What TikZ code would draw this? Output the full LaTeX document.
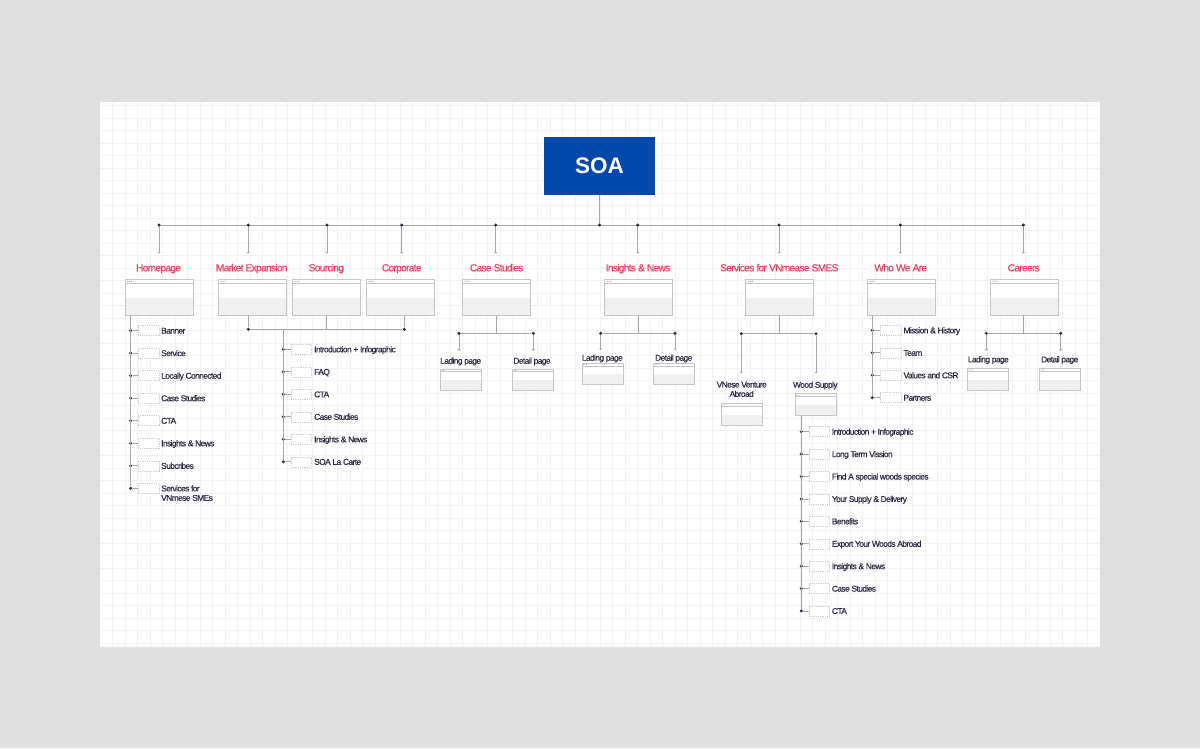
\documentclass[tikz,border=0pt]{standalone}
\usepackage{fontspec}
\setmainfont{Liberation Sans}[LetterSpace=-7,FakeBold=0.35]
\newfontfamily\titlefont{Liberation Sans}[LetterSpace=-7,FakeBold=0.6]
\newfontfamily\soafont{Liberation Sans}
\usetikzlibrary{arrows.meta,calc}
\definecolor{bgout}{HTML}{E0E0E0}
\definecolor{gridc}{HTML}{F2F2F2}
\definecolor{soablue}{HTML}{0049AA}
\definecolor{titlered}{HTML}{E6455F}
\definecolor{navy}{HTML}{2B2A45}
\definecolor{linec}{HTML}{A8A8A8}
\definecolor{boxgray}{HTML}{C6C6C6}
\definecolor{pagefill}{HTML}{F0F0F0}
\definecolor{phgray}{HTML}{CDCDCD}
\definecolor{dotgray}{HTML}{8A8A8A}
\begin{document}
\begin{tikzpicture}[x=1pt,y=-1pt,
  conn/.style={draw=linec,line width=0.8},
  arr/.style={-{To[length=1.6,width=3]}},
  dotn/.style={circle,fill=navy,inner sep=0,minimum size=3.4},
  soabox/.style={fill=soablue,minimum width=111,minimum height=58,inner sep=0,text=white,font=\soafont\bfseries\fontsize{22.5}{24}\selectfont},
  title/.style={anchor=base,inner sep=0,text=titlered,font=\titlefont\fontsize{10.2}{12}\selectfont},
  lbl/.style={inner sep=0,text=navy,font=\fontsize{8.4}{9.4}\selectfont},
  itemtext/.style={lbl,anchor=base west},
  ph/.style={draw=phgray,dash pattern=on 1pt off 0.8pt,line width=0.5,fill=white,minimum width=20.5,minimum height=10,inner sep=0},
  pagebig/.style={draw=boxgray,line width=0.7,fill=white,minimum width=68,minimum height=36,inner sep=0,
    path picture={
      \fill[pagefill] ($(path picture bounding box.west)+(0,1)$) rectangle (path picture bounding box.south east);
      \draw[boxgray,line width=0.5] ($(path picture bounding box.north west)+(0,4.3)$) -- ($(path picture bounding box.north east)+(0,4.3)$);
      \foreach \k in {0,1,2} \fill[dotgray] ($(path picture bounding box.north west)+(2.6+2*\k,2.2)$) circle (0.6);
    }},
  pagesmall/.style={draw=boxgray,line width=0.6,fill=white,minimum width=41,minimum height=21.5,inner sep=0,
    path picture={
      \fill[pagefill] ($(path picture bounding box.west)+(0,0.6)$) rectangle (path picture bounding box.south east);
      \draw[boxgray,line width=0.4] ($(path picture bounding box.north west)+(0,2.8)$) -- ($(path picture bounding box.north east)+(0,2.8)$);
      \foreach \k in {0,1,2} \fill[dotgray] ($(path picture bounding box.north west)+(1.8+1.4*\k,1.4)$) circle (0.4);
    }}
]
\useasboundingbox (0,0) rectangle (1200,748);
\fill[bgout] (0,0) rectangle (1200,748);
\fill[white] (100,102) rectangle (1100,647);
\foreach \i in {1,...,79} \draw[gridc,line width=0.6] ({100+12.5*\i},102) -- ({100+12.5*\i},647);
\foreach \j in {0,...,43} \draw[gridc,line width=0.6] (100,{105.5+12.5*\j}) -- (1100,{105.5+12.5*\j});

% root
\node[soabox] (soa) at (599.5,166) {SOA};

% top bus
\coordinate (ts) at (599.5,225);
\foreach \n/\x in {1/159,2/248.3,3/327,4/401.7,5/495.7,6/637.7,7/779,8/900.3,9/1023.3}{
  \coordinate (t\n) at (\x,225);
  \coordinate (a\n) at (\x,253.5);
}
\draw[conn] (t1) -- (t9);
\draw[conn] (soa.south) -- (ts);
\foreach \n in {1,...,9}{
  \draw[conn,arr] (t\n) -- (a\n);
  \node[dotn] at (t\n) {};
}
\node[dotn] at (ts) {};

% titles
\node[title] (ti1) at (158.5,271.3) {Homepage};
\node[title] (ti2) at (251.7,271.3) {Market Expansion};
\node[title] (ti3) at (326.3,271.3) {Sourcing};
\node[title] (ti4) at (401.7,271.3) {Corporate};
\node[title] (ti5) at (496.7,271.3) {Case Studies};
\node[title] (ti6) at (638,271.3) {Insights \& News};
\node[title] (ti7) at (779.3,271.3) {Services for VNmease SMES};
\node[title] (ti8) at (900.7,271.3) {Who We Are};
\node[title] (ti9) at (1023.7,271.3) {Careers};

% page boxes
\node[pagebig] (p1) at (159.2,297) {};
\node[pagebig] (p2) at (252.5,297) {};
\node[pagebig] (p3) at (326.5,297) {};
\node[pagebig] (p4) at (400.3,297) {};
\node[pagebig] (p5) at (496.5,297) {};
\node[pagebig] (p6) at (638.5,297) {};
\node[pagebig] (p7) at (779.7,297) {};
\node[pagebig] (p8) at (901.5,297) {};
\node[pagebig] (p9) at (1024.5,297) {};

% ---------- Homepage list
\foreach \t [count=\i] in {Banner,Service,Locally Connected,Case Studies,CTA,Insights \& News,Subcribes}{
  \pgfmathsetmacro\yy{330.6+22.53*(\i-1)}
  \node[dotn] (hd\i) at (130.7,\yy) {};
  \node[ph] (hp\i) at (148.7,\yy) {};
  \node[itemtext] (ht\i) at (161,{\yy+3}) {\t};
  \draw[conn] (hd\i) -- (hp\i);
}
\node[dotn] (hd8) at (130.7,488.3) {};
\node[ph] (hp8) at (148.7,488.3) {};
\node[lbl,anchor=north west,align=left] (ht8) at (161,485.1) {Services for\\VNmese SMEs};
\draw[conn] (hd8) -- (hp8);
\draw[conn] (p1.south -| hd1) -- (hd8);

% ---------- Market / Sourcing / Corporate
\node[dotn] (md) at (248.3,329.3) {};
\node[dotn] (cd) at (404.3,329.3) {};
\coordinate (sj) at (283.3,329.3);
\draw[conn] (p2.south -| md) -- (md);
\draw[conn] (p4.south -| cd) -- (cd);
\draw[conn] (p3.south) -- (p3.south |- md);
\draw[conn] (md) -- (cd);
\foreach \t [count=\i] in {Introduction + Infographic,FAQ,CTA,Case Studies,Insights \& News,SOA La Carte}{
  \pgfmathsetmacro\yy{349.3+22.5*(\i-1)}
  \node[dotn] (sd\i) at (283.3,\yy) {};
  \node[ph] (sp\i) at (301.3,\yy) {};
  \node[itemtext] (st\i) at (314,{\yy+3}) {\t};
  \draw[conn] (sd\i) -- (sp\i);
}
\draw[conn] (sj) -- (sd6);

% ---------- Case Studies children
\node[dotn] (cl) at (459,333.3) {};
\node[dotn] (cr) at (533.3,333.3) {};
\coordinate (cla) at (459,350.7);
\coordinate (cra) at (533.3,350.7);
\draw[conn] (p5.south) -- (p5.south |- cl);
\draw[conn] (cl) -- (cr);
\draw[conn,arr] (cl) -- (cla);
\draw[conn,arr] (cr) -- (cra);
\node[lbl,anchor=base] (cll) at (460.7,363.7) {Lading page};
\node[lbl,anchor=base] (crl) at (532,363.7) {Detail page};
\node[pagesmall] (cls) at (460.7,379.6) {};
\node[pagesmall] (crs) at (532.7,379.6) {};

% ---------- Insights children
\node[dotn] (il) at (600.7,333.3) {};
\node[dotn] (ir) at (675,333.3) {};
\coordinate (ila) at (600.7,350);
\coordinate (ira) at (675,350);
\draw[conn] (p6.south) -- (p6.south |- il);
\draw[conn] (il) -- (ir);
\draw[conn,arr] (il) -- (ila);
\draw[conn,arr] (ir) -- (ira);
\node[lbl,anchor=base] (ill) at (602.3,360.7) {Lading page};
\node[lbl,anchor=base] (irl) at (673.7,360.7) {Detail page};
\node[pagesmall] (ils) at (602.3,373.8) {};
\node[pagesmall] (irs) at (674,373.8) {};

% ---------- Services children
\node[dotn] (vl) at (741.3,333.7) {};
\node[dotn] (vr) at (816,333.7) {};
\coordinate (vla) at (741.3,373.3);
\coordinate (vra) at (816,373.3);
\draw[conn] (p7.south) -- (p7.south |- vl);
\draw[conn] (vl) -- (vr);
\draw[conn,arr] (vl) -- (vla);
\draw[conn,arr] (vr) -- (vra);
\node[lbl,anchor=north,align=center] (vll) at (741.7,381.5) {VNese Venture\\Abroad};
\node[lbl,anchor=base] (vrl) at (815.3,387.7) {Wood Supply};
\node[pagesmall] (vls) at (741.8,414.3) {};
\node[pagesmall] (ws) at (815.3,404.5) {};

\foreach \t [count=\i] in {Introduction + Infographic,Long Term Vission,Find A special woods species,Your Supply \& Delivery,Benefits,Export Your Woods Abroad,Insights \& News,Case Studies,CTA}{
  \pgfmathsetmacro\yy{431.7+22.41*(\i-1)}
  \node[dotn] (wd\i) at (801.3,\yy) {};
  \node[ph] (wp\i) at (819.2,\yy) {};
  \node[itemtext] (wt\i) at (831.7,{\yy+3}) {\t};
  \draw[conn] (wd\i) -- (wp\i);
}
\draw[conn] (ws.south -| wd1) -- (wd9);

% ---------- Who We Are list
\foreach \t [count=\i] in {Mission \& History,Team,Values and CSR,Partners}{
  \pgfmathsetmacro\yy{330.3+22.47*(\i-1)}
  \node[dotn] (od\i) at (872.3,\yy) {};
  \node[ph] (op\i) at (890.7,\yy) {};
  \node[itemtext] (ot\i) at (903.3,{\yy+3}) {\t};
  \draw[conn] (od\i) -- (op\i);
}
\draw[conn] (p8.south -| od1) -- (od4);

% ---------- Careers children
\node[dotn] (kl) at (986.3,333.3) {};
\node[dotn] (kr) at (1060.7,333.3) {};
\coordinate (kla) at (986.3,350.7);
\coordinate (kra) at (1060.7,350.7);
\draw[conn] (p9.south -| t9) -- (t9 |- kl);
\draw[conn] (kl) -- (kr);
\draw[conn,arr] (kl) -- (kla);
\draw[conn,arr] (kr) -- (kra);
\node[lbl,anchor=base] (kll) at (988.3,362.3) {Lading page};
\node[lbl,anchor=base] (krl) at (1059.7,362.3) {Detail page};
\node[pagesmall] (kls) at (988.2,379.2) {};
\node[pagesmall] (krs) at (1060,379.2) {};
\end{tikzpicture}
\end{document}
